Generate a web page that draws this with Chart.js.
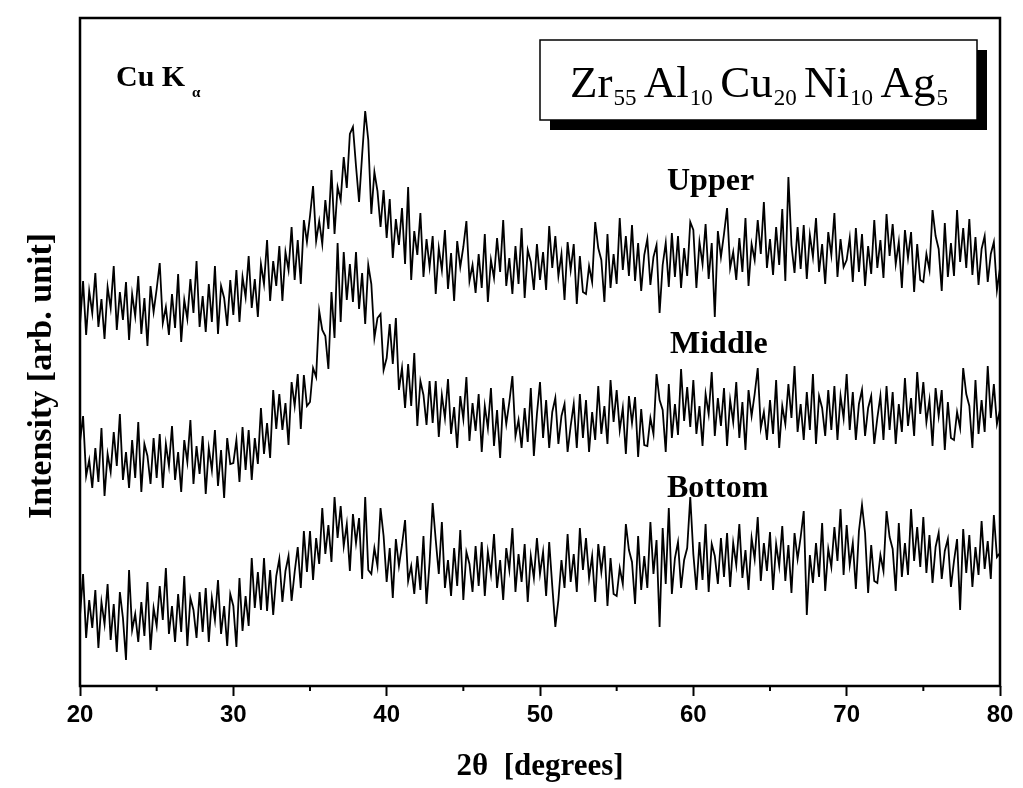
<!DOCTYPE html>
<html>
<head>
<meta charset="utf-8">
<script src="https://cdn.jsdelivr.net/npm/chart.js@4/dist/chart.umd.min.js"></script>
<style>
    body { margin: 0; background: #fff; }
    #wrap { width: 1023px; height: 788px; }
</style>
</head>
<body>
<div id="wrap"><canvas id="xrd" width="1023" height="788"></canvas></div>
<script>
// 2theta scan: 20..80 deg, 0.2 deg per point
const thetaStart = 20;
const thetaStep = 0.2;

// intensity (arb. unit), offset as in the figure
const upper = [
    361, 405, 351, 395, 373, 413, 359, 387, 347, 399,
    378, 420, 356, 394, 366, 404, 346, 392, 370, 410,
    352, 388, 340, 400, 374, 397, 423, 363, 379, 351,
    392, 358, 412, 344, 386, 367, 407, 373, 425, 359,
    390, 354, 402, 364, 420, 352, 400, 388, 360, 406,
    371, 416, 364, 409, 389, 430, 378, 407, 369, 422,
    402, 446, 385, 425, 400, 440, 385, 434, 416, 459,
    406, 446, 402, 466, 444, 470, 500, 445, 465, 442,
    486, 457, 516, 452, 499, 486, 529, 498, 552, 559,
    520, 484, 531, 575, 546, 472, 514, 495, 459, 496,
    448, 487, 428, 467, 441, 478, 422, 499, 406, 455,
    431, 473, 409, 447, 419, 450, 392, 438, 416, 456,
    397, 433, 385, 445, 419, 439, 465, 405, 421, 393,
    432, 398, 452, 384, 426, 408, 448, 414, 466, 400,
    428, 392, 440, 402, 458, 388, 436, 424, 396, 442,
    406, 434, 396, 460, 418, 450, 410, 432, 386, 444,
    416, 442, 382, 430, 394, 392, 420, 404, 464, 438,
    426, 384, 452, 398, 432, 402, 468, 416, 450, 410,
    461, 405, 443, 395, 431, 447, 401, 429, 441, 373,
    421, 443, 399, 453, 409, 450, 398, 438, 410, 464,
    456, 398, 444, 422, 462, 407, 443, 369, 455, 429,
    452, 478, 418, 434, 406, 448, 414, 468, 400, 442,
    426, 466, 432, 484, 418, 447, 411, 459, 421, 477,
    405, 509, 441, 413, 459, 417, 461, 407, 451, 429,
    468, 414, 442, 402, 454, 431, 473, 409, 447, 419,
    426, 448, 404, 458, 414, 452, 400, 440, 412, 466,
    418, 446, 408, 472, 430, 462, 422, 444, 398, 456,
    428, 454, 394, 442, 406, 404, 432, 416, 476, 450,
    437, 395, 463, 409, 443, 410, 476, 424, 458, 418,
    467, 411, 449, 401, 437, 450, 404, 432, 444, 396,
    418
];

const middle = [
    244, 270, 210, 226, 198, 238, 204, 258, 190, 232,
    214, 254, 220, 272, 206, 234, 198, 246, 208, 264,
    194, 242, 230, 202, 248, 208, 252, 198, 242, 220,
    260, 206, 234, 194, 246, 224, 266, 202, 240, 212,
    250, 192, 238, 216, 256, 200, 236, 188, 248, 222,
    223, 246, 204, 259, 216, 256, 206, 248, 222, 278,
    232, 263, 228, 296, 257, 292, 256, 283, 241, 304,
    280, 312, 257, 311, 280, 284, 318, 309, 375, 356,
    350, 317, 394, 348, 443, 364, 434, 386, 422, 384,
    434, 377, 413, 362, 421, 402, 348, 368, 372, 316,
    328, 362, 322, 368, 296, 318, 278, 322, 280, 333,
    260, 305, 291, 261, 305, 263, 305, 249, 291, 268,
    307, 252, 279, 238, 290, 267, 309, 245, 283, 255,
    292, 234, 280, 258, 298, 240, 276, 228, 288, 262,
    284, 310, 250, 266, 238, 278, 244, 298, 230, 272,
    304, 248, 286, 238, 274, 288, 242, 270, 282, 234,
    260, 282, 238, 292, 248, 286, 234, 274, 246, 300,
    252, 280, 242, 306, 264, 296, 256, 278, 232, 290,
    263, 289, 229, 277, 241, 240, 268, 252, 312, 286,
    276, 234, 302, 248, 282, 251, 317, 265, 299, 259,
    306, 252, 280, 240, 292, 272, 314, 250, 288, 260,
    298, 240, 286, 264, 304, 248, 284, 236, 296, 270,
    292, 318, 258, 274, 246, 286, 252, 306, 238, 280,
    262, 302, 268, 320, 254, 282, 246, 294, 256, 312,
    242, 290, 278, 250, 296, 256, 300, 246, 290, 268,
    312, 256, 294, 246, 282, 296, 250, 278, 290, 242,
    268, 290, 246, 300, 256, 294, 242, 282, 254, 308,
    260, 288, 250, 314, 272, 304, 264, 286, 240, 298,
    270, 296, 236, 284, 248, 246, 274, 258, 318, 292,
    280, 238, 306, 252, 286, 254, 320, 268, 302, 262,
    276
];

const bottom = [
    70, 112, 48, 86, 58, 96, 38, 84, 62, 102,
    46, 82, 34, 94, 68, 26, 116, 56, 72, 44,
    84, 50, 104, 36, 78, 60, 100, 66, 118, 52,
    80, 44, 92, 54, 110, 40, 88, 76, 48, 94,
    54, 98, 44, 88, 66, 106, 52, 80, 40, 92,
    80, 39, 108, 55, 90, 60, 128, 78, 114, 76,
    128, 75, 116, 71, 110, 127, 84, 115, 130, 85,
    114, 139, 98, 155, 114, 155, 106, 148, 122, 178,
    132, 161, 124, 189, 148, 180, 140, 162, 115, 172,
    143, 168, 107, 189, 116, 112, 138, 120, 178, 150,
    104, 138, 88, 147, 120, 141, 166, 105, 120, 92,
    130, 96, 150, 82, 124, 183, 146, 112, 164, 98,
    126, 90, 138, 100, 156, 86, 134, 122, 94, 140,
    100, 144, 90, 134, 112, 152, 98, 126, 86, 138,
    116, 158, 94, 132, 104, 142, 84, 130, 108, 148,
    112, 134, 90, 144, 100, 59, 86, 126, 98, 152,
    104, 132, 94, 158, 116, 148, 108, 130, 84, 142,
    114, 140, 80, 128, 92, 90, 118, 102, 162, 136,
    124, 82, 150, 96, 130, 98, 164, 112, 146, 59,
    158, 102, 178, 92, 128, 144, 98, 126, 138, 189,
    132, 96, 144, 106, 162, 94, 142, 130, 102, 148,
    109, 153, 99, 143, 121, 162, 108, 136, 96, 148,
    127, 169, 105, 143, 115, 154, 96, 142, 120, 160,
    105, 141, 93, 153, 127, 149, 175, 71, 131, 103,
    143, 109, 163, 95, 137, 119, 159, 125, 177, 111,
    161, 121, 143, 97, 155, 181, 153, 93, 141, 105,
    103, 131, 115, 175, 149, 137, 95, 163, 109, 143,
    111, 177, 125, 159, 119, 169, 113, 151, 103, 139,
    153, 107, 135, 147, 99, 125, 147, 76, 157, 113,
    151, 99, 139, 111, 165, 117, 145, 107, 171, 129,
    133
];

const xTicks = [20, 30, 40, 50, 60, 70, 80];
const xMinor = [25, 35, 45, 55, 65, 75];
const traceNames = ['Upper', 'Middle', 'Bottom'];

const twoTheta = upper.map((v, i) => +(thetaStart + i * thetaStep).toFixed(1));
const pts = arr => arr.map((v, i) => ({x: twoTheta[i], y: v}));

const SERIF = '"Liberation Serif", "Times New Roman", serif';
const SANS = '"Liberation Sans", Arial, sans-serif';

// frame, minor ticks and the text annotations
let decorations = {
    id: 'decorations',
    afterDraw(chart) {
        const ctx = chart.ctx;
        const a = chart.chartArea;
        const xs = chart.scales.x;
        ctx.save();
        ctx.strokeStyle = '#000';
        ctx.lineWidth = 2.5;
        ctx.strokeRect(a.left, a.top, a.right - a.left, a.bottom - a.top);

        ctx.lineWidth = 2;
        xMinor.forEach(function (t) {
            let px = xs.getPixelForValue(t);
            ctx.beginPath();
            ctx.moveTo(px, a.bottom);
            ctx.lineTo(px, a.bottom + 5);
            ctx.stroke();
        });

        ctx.fillStyle = '#000';
        ctx.textBaseline = 'alphabetic';

        // Cu K alpha
        ctx.font = 'bold 30px ' + SERIF;
        ctx.textAlign = 'left';
        ctx.fillText('Cu K', 116, 86);
        ctx.font = 'bold 15px ' + SERIF;
        ctx.fillText('α', 192, 97);

        // y title, drawn by hand so it sits where the original has it
        ctx.save();
        ctx.translate(51, 376);
        ctx.rotate(-Math.PI / 2);
        ctx.font = 'bold 34px ' + SERIF;
        ctx.textAlign = 'center';
        ctx.fillText('Intensity [arb. unit]', 0, 0);
        ctx.restore();

        // composition box with drop shadow
        ctx.fillRect(550, 50, 437, 80);
        ctx.fillStyle = '#fff';
        ctx.fillRect(540, 40, 437, 80);
        ctx.lineWidth = 1.5;
        ctx.strokeRect(540, 40, 437, 80);
        ctx.fillStyle = '#000';

        // Zr55Al10Cu20Ni10Ag5, laid out from 570 to 948 px
        let parts = ['Zr', '55', 'Al', '10', 'Cu', '20', 'Ni', '10', 'Ag', '5'];
        let fontFor = i => (i % 2 ? '23px ' : '45px ') + SERIF;
        let total = 0;
        parts.forEach(function (p, i) {
            ctx.font = fontFor(i);
            total += ctx.measureText(p).width;
        });
        let subGap = 1;
        let mainGap = (948 - 570 - total - 5 * subGap) / 4;
        let cx = 570;
        parts.forEach(function (p, i) {
            ctx.font = fontFor(i);
            ctx.fillText(p, cx, i % 2 ? 105 : 97);
            cx += ctx.measureText(p).width + (i % 2 ? mainGap : subGap);
        });

        // trace labels
        ctx.font = 'bold 32px ' + SERIF;
        ctx.fillText(traceNames[0], 667, 190);
        ctx.fillText(traceNames[1], 670, 353);
        ctx.fillText(traceNames[2], 667, 497);
        ctx.restore();
    }
};

let ds = (name, arr) => ({
    label: name,
    data: pts(arr),
    borderColor: '#000',
    borderWidth: 1.8,
    pointRadius: 0,
    tension: 0,
    fill: false
});

let chart = new Chart(document.getElementById('xrd').getContext('2d'), {
    type: 'line',
    data: {
        datasets: [ds(traceNames[0], upper), ds(traceNames[1], middle), ds(traceNames[2], bottom)]
    },
    options: {
        responsive: false,
        animation: false,
        devicePixelRatio: 1,
        layout: {padding: {top: 18, right: 23, left: 0, bottom: 0}},
        plugins: {legend: {display: false}, tooltip: {enabled: false}},
        scales: {
            x: {
                type: 'linear',
                min: 20,
                max: 80,
                afterBuildTicks: s => { s.ticks = xTicks.map(v => ({value: v})); },
                afterFit: s => { s.height = 102; },
                border: {display: false},
                grid: {drawOnChartArea: false, tickLength: 10, tickWidth: 2, tickColor: '#000'},
                ticks: {color: '#000', padding: 5, maxRotation: 0, font: {family: SANS, size: 24, weight: 'bold'}},
                title: {
                    display: true,
                    text: '2θ  [degrees]',
                    color: '#000',
                    padding: {top: 0, bottom: 2},
                    font: {family: SERIF, size: 31, weight: 'bold'}
                }
            },
            y: {
                min: 0,
                max: 668,
                afterFit: s => { s.width = 80; },
                border: {display: false},
                grid: {display: false},
                ticks: {display: false}
            }
        }
    },
    plugins: [decorations]
});
</script>
</body>
</html>
